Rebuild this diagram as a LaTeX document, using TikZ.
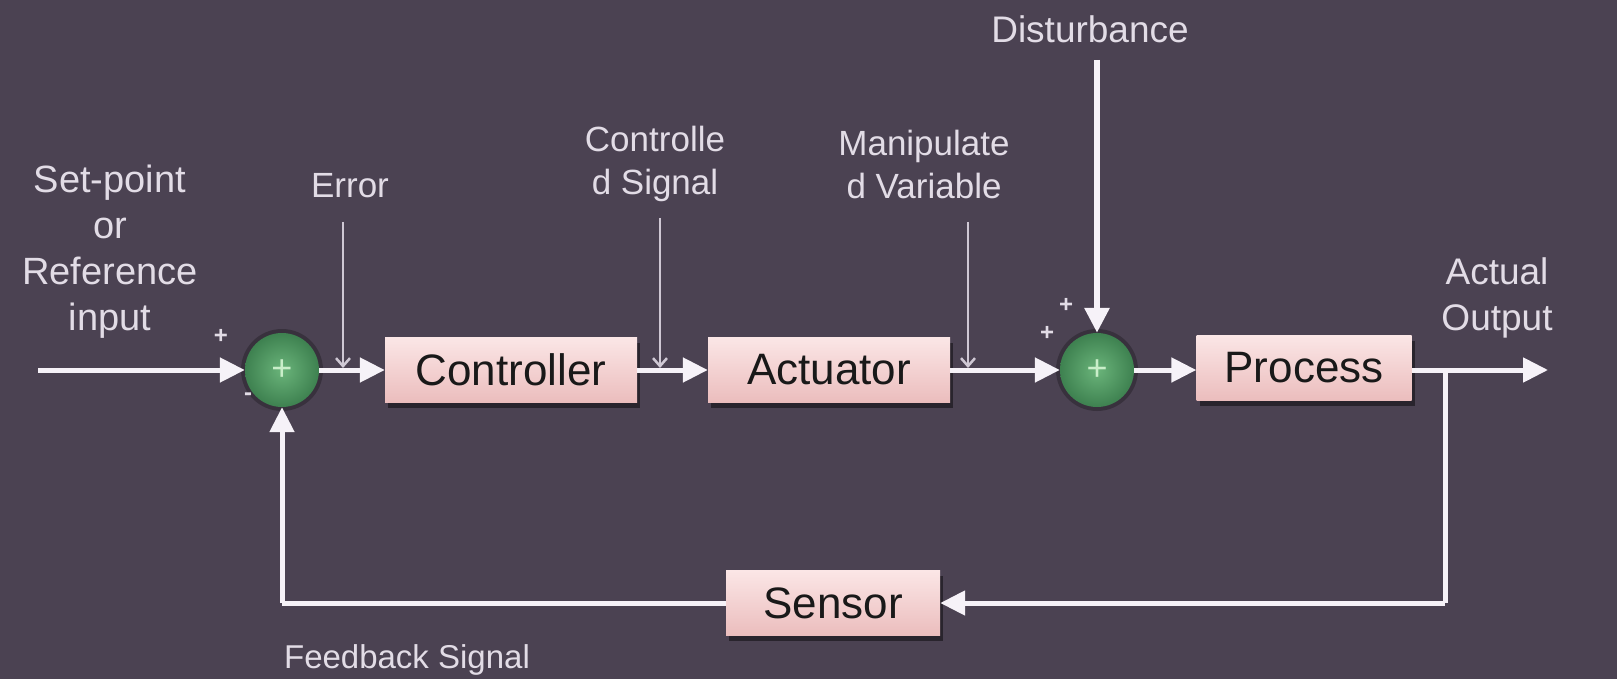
\documentclass[tikz,border=0pt]{standalone}
\usepackage{fontspec}
\setmainfont{Liberation Sans}
\usetikzlibrary{arrows.meta,shadows}
\definecolor{bg}{HTML}{4B4252}
\definecolor{wline}{HTML}{F6F2F8}
\definecolor{thin}{HTML}{CFC8D4}
\definecolor{lbl}{HTML}{E2DCE6}
\definecolor{pinktop}{HTML}{FBE6E6}
\definecolor{pinkbot}{HTML}{EBBDBD}
\definecolor{gin}{HTML}{6AB47A}
\definecolor{gout}{HTML}{3E8150}
\definecolor{plusg}{HTML}{C9EEC9}
\tikzset{
  blk/.style={rectangle, top color=pinktop, bottom color=pinkbot, draw=none,
    minimum height=65pt, inner sep=0pt, text=black!90,
    font=\fontsize{44}{48}\selectfont,
    drop shadow={shadow xshift=3pt, shadow yshift=-5pt, fill=black, opacity=0.45}},
  sumnode/.style={circle, inner color=gin, outer color=gout, minimum size=74pt, inner sep=0pt,
    text=plusg, font=\fontsize{36}{36}\selectfont},
  lab/.style={text=lbl, align=center, font=\fontsize{35}{43}\selectfont, inner sep=0pt},
  sgn/.style={text=lbl, font=\fontsize{24}{24}\selectfont\bfseries, inner sep=0pt},
  mainline/.style={draw=wline, line width=5pt, -{Triangle[length=25pt,width=24pt]}},
  plainline/.style={draw=wline, line width=5pt},
  sigline/.style={draw=thin, line width=2.5pt, -{Straight Barb[length=8pt,width=14pt]}},
}
\begin{document}
\begin{tikzpicture}[x=1pt,y=-1pt]
\fill[bg] (0,0) rectangle (1617,679);
\useasboundingbox (0,0) rectangle (1617,679);

% blocks
\node[blk, minimum width=252pt] (ctrl) at (511,370) {Controller};
\node[blk, minimum width=242pt] (act) at (829,370) {Actuator};
\node[blk, minimum width=215pt] (proc) at (1304,368) {Process};
\node[blk, minimum width=214pt] (sens) at (833,603) {Sensor};

% summing junctions
\fill[black, opacity=0.25] (282,370) circle (41pt);
\fill[black, opacity=0.25] (1097,370) circle (41pt);
\node[sumnode] (s1) at (282,370) {+};
\node[sumnode] (s2) at (1097,370) {+};

% coordinates
\coordinate (inp) at (38,370);
\coordinate (outp) at (1548,370);
\coordinate (br) at (1445,370);
\coordinate (brd) at (1445,603);
\coordinate (fbc) at (282,603);
\coordinate (errtop) at (343,222);
\coordinate (errbot) at (343,368);
\coordinate (cstop) at (660,218);
\coordinate (csbot) at (660,368);
\coordinate (mvtop) at (968,222);
\coordinate (mvbot) at (968,368);
\coordinate (dtop) at (1097,60);

% main path
\draw[mainline] (inp) -- (s1.west);
\draw[mainline] (s1.east) -- (ctrl.west);
\draw[mainline] (ctrl.east) -- (act.west);
\draw[mainline] (act.east) -- (s2.west);
\draw[mainline] (s2.east) -- (proc.west |- s2.east);
\draw[mainline] (proc.east |- br) -- (outp);
\draw[plainline] (br) -- (brd);
\draw[mainline] (brd) -- (sens.east);
\draw[plainline] (sens.west) -- (fbc);
\draw[mainline] (fbc) -- (s1.south);
\draw[mainline, line width=6pt] (dtop) -- (s2.north);

% signal indicators
\draw[sigline] (errtop) -- (errbot);
\draw[sigline] (cstop) -- (csbot);
\draw[sigline] (mvtop) -- (mvbot);

% labels
\node[lab, font=\fontsize{38}{46}\selectfont] (sp) at (110,252) {Set-point\\or\\Reference\\input};
\node[lab] (errl) at (350,186) {Error};
\node[lab] (csl) at (655,164) {Controlle\\d Signal};
\node[lab] (mvl) at (924,164) {Manipulate\\d Variable};
\node[lab, font=\fontsize{37}{46}\selectfont] (dl) at (1090,29) {Disturbance};
\node[lab, font=\fontsize{37}{46}\selectfont] (aol) at (1497,298) {Actual\\Output};
\node[lab, font=\fontsize{33}{40}\selectfont] (fbl) at (407,660) {Feedback Signal};

% signs
\node[sgn] (p1) at (221,336) {+};
\node[sgn] (m1) at (248,397) {-};
\node[sgn] (p2) at (1066,305) {+};
\node[sgn] (p3) at (1047,333) {+};
\end{tikzpicture}
\end{document}
